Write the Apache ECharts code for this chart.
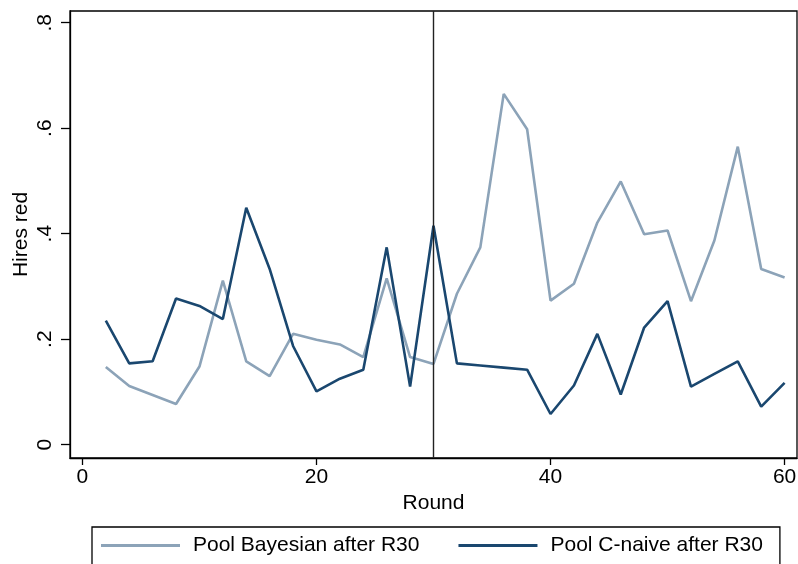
<!DOCTYPE html>
<html>
<head>
<meta charset="utf-8">
<script src="https://cdn.jsdelivr.net/npm/echarts@6/dist/echarts.min.js"></script>
<style>
  html, body { margin: 0; padding: 0; background: #fff; }
  #chart { width: 798px; height: 564px; }
</style>
</head>
<body>
<div id="chart"></div>
<script>
// Rounds observed (every second round)
const rounds = [2, 4, 6, 8, 10, 12, 14, 16, 18, 20, 22, 24, 26, 28, 30,
                32, 34, 36, 38, 40, 42, 44, 46, 48, 50, 52, 54, 56, 58, 60];

// Share of red hires per round
const poolBayesian = [0.147, 0.111, 0.094, 0.077, 0.148, 0.311, 0.158, 0.130, 0.210, 0.199,
                      0.190, 0.166, 0.315, 0.166, 0.153, 0.286, 0.374, 0.665, 0.598, 0.273,
                      0.305, 0.421, 0.499, 0.399, 0.406, 0.272, 0.387, 0.565, 0.333, 0.317];
const poolCNaive = [0.235, 0.154, 0.158, 0.277, 0.263, 0.238, 0.449, 0.333, 0.187, 0.101,
                    0.125, 0.142, 0.374, 0.110, 0.415, 0.154, 0.150, 0.146, 0.142, 0.058,
                    0.112, 0.210, 0.095, 0.222, 0.272, 0.110, 0.134, 0.158, 0.072, 0.117];

const xTicks = [0, 20, 40, 60];
const yTicks = [0, 0.2, 0.4, 0.6, 0.8];
const switchRound = 30;

const seriesNames = ['Pool Bayesian after R30', 'Pool C-naive after R30'];
const colors = ['#8ca3b8', '#1a476f'];

const FONT = 'Liberation Sans, Arial, sans-serif';
const FS = 21;

function pairs(ys) { return rounds.map((r, i) => [r, ys[i]]); }
function fmtY(v) {
  if (Math.abs(v) < 1e-9) return '0';
  return String(Math.round(v * 10) / 10).replace(/^0\./, '.');
}

const chart = echarts.init(document.getElementById('chart'), null, { renderer: 'canvas' });
chart.setOption({
  animation: false,
  backgroundColor: '#fff',
  textStyle: { fontFamily: FONT, color: '#000' },
  grid: {
    left: 70, right: 1, top: 11, bottom: 106,
    containLabel: false, outerBoundsMode: 'none',
    show: true, borderColor: '#000', borderWidth: 1.3, backgroundColor: '#fff'
  },
  xAxis: {
    type: 'value',
    min: -1.06, max: 61.06,
    name: 'Round', nameLocation: 'middle', nameGap: 30,
    nameTextStyle: { fontSize: FS, color: '#000', fontFamily: FONT },
    axisLine: { show: true, onZero: false, lineStyle: { color: '#000', width: 1.3 } },
    axisTick: { show: true, length: 7, customValues: xTicks, lineStyle: { color: '#000', width: 1.3 } },
    axisLabel: { customValues: xTicks, fontSize: FS, color: '#000', margin: 9, fontFamily: FONT },
    splitLine: { show: false }
  },
  yAxis: {
    type: 'value',
    min: -0.0254, max: 0.8222,
    name: 'Hires red', nameLocation: 'middle', nameGap: 38, nameRotate: 90,
    nameMoveOverlap: false,
    nameTextStyle: { fontSize: FS, color: '#000', fontFamily: FONT },
    axisLine: { show: true, onZero: false, lineStyle: { color: '#000', width: 1.3 } },
    axisTick: { show: true, length: 9, customValues: yTicks, lineStyle: { color: '#000', width: 1.3 } },
    axisLabel: { customValues: yTicks, rotate: 90, fontSize: FS, color: '#000', margin: 14,
                 fontFamily: FONT, formatter: fmtY },
    splitLine: { show: false }
  },
  legend: {
    left: 92, top: 527,
    orient: 'horizontal',
    data: seriesNames.map(n => ({ name: n, icon: 'rect' })),
    itemWidth: 79, itemHeight: 3, itemGap: 39,
    padding: [8, 17, 9, 9],
    borderColor: '#000', borderWidth: 1.3,
    textStyle: { fontSize: FS, color: '#000', fontFamily: FONT, padding: [0, 0, 0, 8] }
  },
  series: [
    {
      name: seriesNames[0], type: 'line', data: pairs(poolBayesian),
      symbol: 'none', color: colors[0],
      lineStyle: { color: colors[0], width: 2.6 },
      markLine: {
        silent: true, symbol: 'none', label: { show: false },
        lineStyle: { color: '#222', width: 1.4, type: 'solid' },
        data: [{ xAxis: switchRound }]
      }
    },
    {
      name: seriesNames[1], type: 'line', data: pairs(poolCNaive),
      symbol: 'none', color: colors[1],
      lineStyle: { color: colors[1], width: 2.6 }
    }
  ]
});
</script>
</body>
</html>
